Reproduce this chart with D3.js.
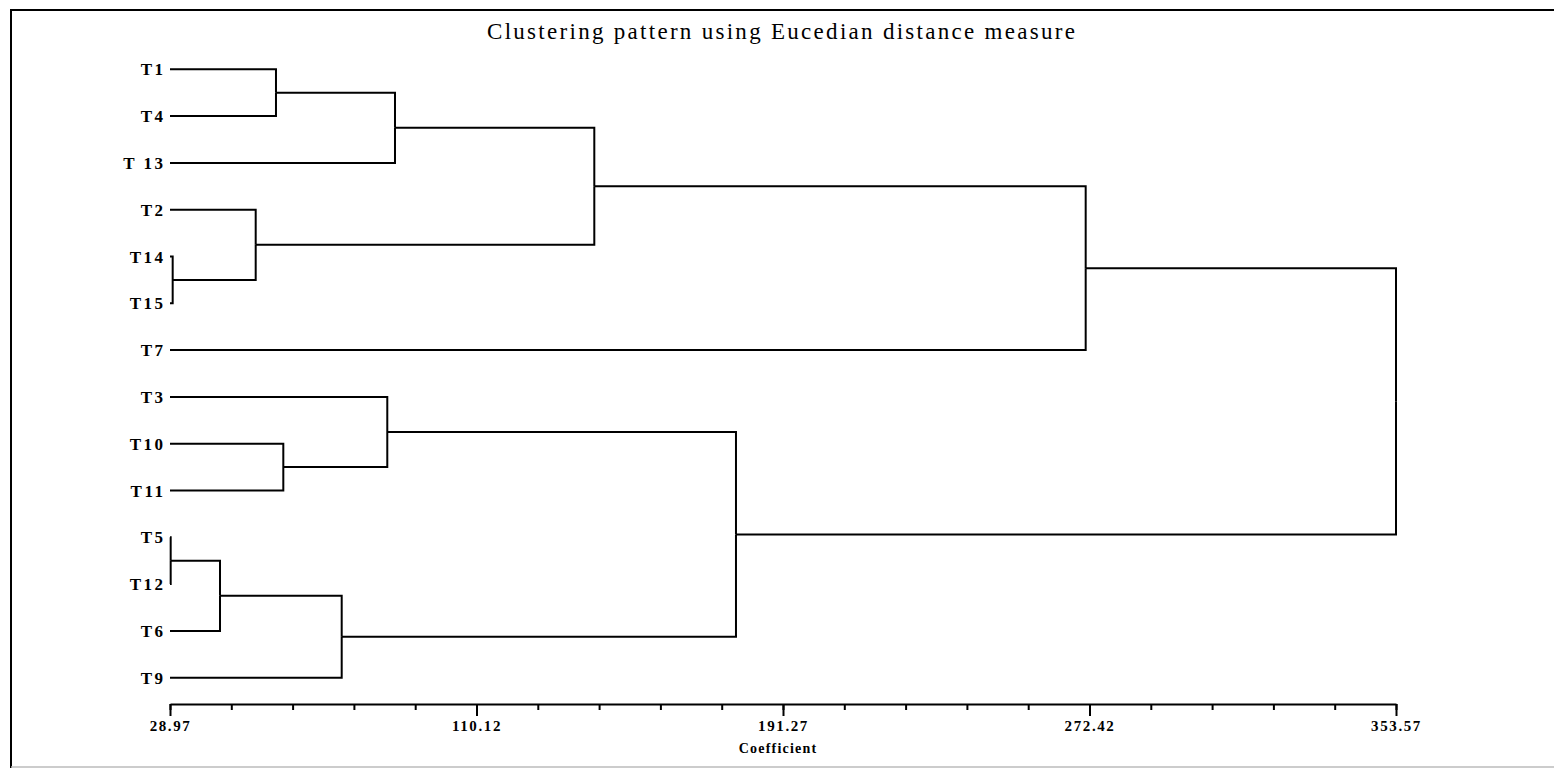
<!DOCTYPE html>
<html>
<head>
<meta charset="utf-8">
<script src="https://cdn.jsdelivr.net/npm/d3@7"></script>
<style>
  html, body { margin: 0; padding: 0; background: #fff; }
  svg { display: block; }
  text { font-family: "Liberation Serif", "DejaVu Serif", serif; fill: #000; }
</style>
</head>
<body>
<svg id="chart" width="1554" height="768"></svg>
<script>
// Leaves, top to bottom
const leafNames = ["T1", "T4", "T 13", "T2", "T14", "T15", "T7",
                   "T3", "T10", "T11", "T5", "T12", "T6", "T9"];

// Agglomeration steps: cluster id, the two members joined, and the coefficient
const clusterIds = ["C1", "C2", "C3", "C4", "C5", "C6", "C7",
                    "C8", "C9", "C10", "C11", "C12", "C13"];
const joinLeft   = ["T1", "C1", "T14", "T2", "C2", "C5", "T10",
                    "T3", "T5", "C9", "C10", "C8", "C6"];
const joinRight  = ["T4", "T 13", "T15", "C3", "C4", "T7", "T11",
                    "C7", "T12", "T6", "T9", "C11", "C12"];
const joinCoef   = [57.03, 88.54, 29.68, 51.66, 141.31, 271.41, 58.97,
                    86.50, 29.15, 42.21, 74.43, 178.82, 353.57];

// Axis
const coefMin = 28.97, coefMax = 353.57;
const tickLabels = [28.97, 110.12, 191.27, 272.42, 353.57];
const minorPerMajor = 5;

const titleText = "Clustering pattern using Eucedian distance measure";
const axisTitle = "Coefficient";

// ---- build the tree ----
const nodes = {};
leafNames.forEach(n => { nodes[n] = { name: n, coef: coefMin, children: null }; });
clusterIds.forEach((id, i) => {
  nodes[id] = { name: id, coef: joinCoef[i], children: [nodes[joinLeft[i]], nodes[joinRight[i]]] };
});
const root = d3.hierarchy(nodes[clusterIds[clusterIds.length - 1]]);

// evenly spaced leaves, parents centred on their children
d3.cluster().size([1, 1]).separation(() => 1)(root);
const leafExtent = d3.extent(root.leaves(), d => d.x);
const y = d3.scaleLinear().domain(leafExtent).range([69.3, 677.7]);
const x = d3.scaleLinear().domain([coefMin, coefMax]).range([170, 1396]);
const yPos = d => y(d.x);

const svg = d3.select("#chart");

// frame
svg.append("line").attr("x1", 11).attr("x2", 1554).attr("y1", 10).attr("y2", 10)
  .attr("stroke", "#000").attr("stroke-width", 2);
svg.append("line").attr("x1", 11).attr("x2", 11).attr("y1", 9).attr("y2", 768)
  .attr("stroke", "#000").attr("stroke-width", 2);
svg.append("line").attr("x1", 11).attr("x2", 1554).attr("y1", 767).attr("y2", 767)
  .attr("stroke", "#bbb").attr("stroke-width", 1.5);

// title
svg.append("text")
  .attr("x", 487).attr("y", 39)
  .attr("font-size", 23)
  .attr("textLength", 588).attr("lengthAdjust", "spacing")
  .text(titleText);

// dendrogram links (elbow)
svg.append("g")
  .attr("fill", "none").attr("stroke", "#000").attr("stroke-width", 2)
  .selectAll("path")
  .data(root.links())
  .join("path")
  .attr("d", l => `M${x(l.target.data.coef)},${yPos(l.target)}H${x(l.source.data.coef)}V${yPos(l.source)}`);

// leaf labels
const ls = 2.5;
svg.append("g")
  .selectAll("text")
  .data(root.leaves())
  .join("text")
  .attr("x", 163 + ls)
  .attr("y", d => yPos(d))
  .attr("dy", "0.36em")
  .attr("text-anchor", "end")
  .attr("font-size", 17)
  .attr("font-weight", "bold")
  .attr("letter-spacing", ls)
  .text(d => d.data.name);

// axis
const axisY = 704;
const step = (coefMax - coefMin) / ((tickLabels.length - 1) * minorPerMajor);
const minorTicks = d3.range(0, (tickLabels.length - 1) * minorPerMajor + 1).map(i => coefMin + i * step);

svg.append("g")
  .attr("transform", `translate(0,${axisY})`)
  .call(d3.axisBottom(x).tickValues(minorTicks).tickSize(6).tickSizeOuter(0).tickFormat(""))
  .call(g => g.select(".domain").attr("stroke-width", 2))
  .call(g => g.selectAll(".tick line").attr("stroke-width", 2));

svg.append("g")
  .attr("transform", `translate(0,${axisY})`)
  .call(d3.axisBottom(x).tickValues(tickLabels).tickSize(12).tickSizeOuter(0).tickPadding(4)
        .tickFormat(d => d.toFixed(2)))
  .call(g => g.select(".domain").remove())
  .call(g => g.selectAll(".tick line").attr("stroke-width", 2))
  .call(g => g.selectAll(".tick text")
        .attr("font-family", "'Liberation Serif', 'DejaVu Serif', serif")
        .attr("font-size", 15)
        .attr("font-weight", "bold")
        .attr("letter-spacing", 1.6)
        .attr("fill", "#000"));

svg.append("text")
  .attr("x", 778).attr("y", 753)
  .attr("text-anchor", "middle")
  .attr("font-size", 14)
  .attr("font-weight", "bold")
  .attr("letter-spacing", 1.2)
  .text(axisTitle);
</script>
</body>
</html>
